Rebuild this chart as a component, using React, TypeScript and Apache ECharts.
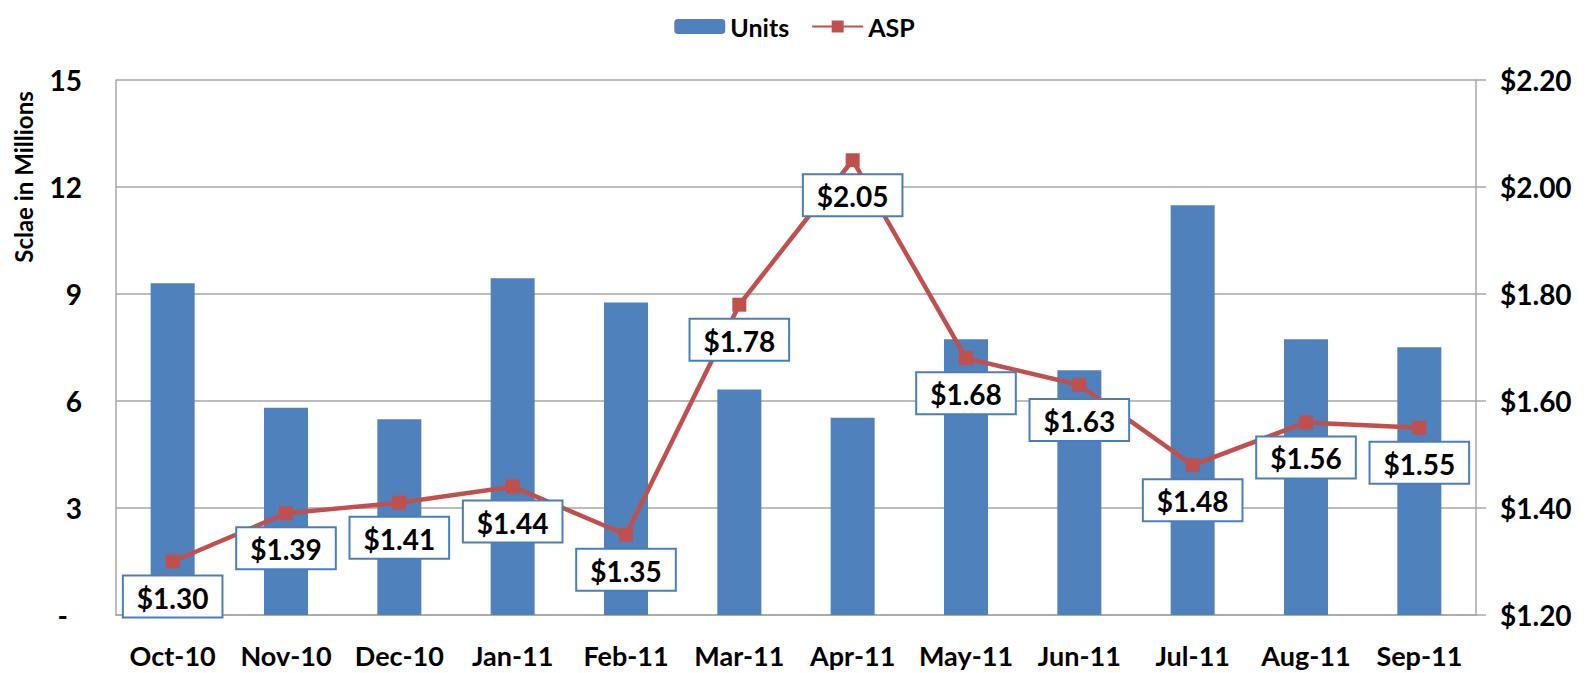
import React, { useEffect, useRef } from "react";
import * as echarts from "echarts";

const categories = ["Oct-10", "Nov-10", "Dec-10", "Jan-11", "Feb-11", "Mar-11", "Apr-11", "May-11", "Jun-11", "Jul-11", "Aug-11", "Sep-11"];
const units = [9.3, 5.81, 5.49, 9.44, 8.76, 6.32, 5.53, 7.73, 6.86, 11.49, 7.73, 7.51];
const asp = [1.3, 1.39, 1.41, 1.44, 1.35, 1.78, 2.05, 1.68, 1.63, 1.48, 1.56, 1.55];
const leftAxis = { min: 0, max: 15, interval: 3 };
const rightAxis = { min: 1.2, max: 2.2, interval: 0.2 };
const axisTitle = "Sclae in Millions";

const FONT = "Lato";
const GRID = "#A6A6A6";

export default function App() {
  const ref = useRef<HTMLDivElement>(null);
  useEffect(() => {
    document.body.style.margin = "0";
    const chart = echarts.init(ref.current!, null, { renderer: "svg" });
    chart.setOption({
      animation: false,
      textStyle: { fontFamily: FONT },
      legend: {
        top: 9,
        left: "center",
        itemWidth: 51,
        itemHeight: 15,
        itemGap: 22,
        textStyle: { fontFamily: FONT, fontWeight: "bold", fontSize: 25, color: "#000" },
        data: ["Units", "ASP"],
      },
      grid: { left: 116, right: 113, top: 80, bottom: 58 },
      graphic: [
        {
          type: "text",
          x: 23,
          y: 177,
          rotation: Math.PI / 2,
          style: {
            text: axisTitle,
            fontFamily: FONT,
            fontWeight: "bold",
            fontSize: 24,
            fill: "#000",
            align: "center",
            verticalAlign: "middle",
          },
        },
      ],
      xAxis: {
        type: "category",
        data: categories,
        axisTick: { show: false },
        axisLine: { lineStyle: { color: GRID, width: 1.5 } },
        axisLabel: { margin: 27, fontFamily: FONT, fontWeight: "bold", fontSize: 27, color: "#000", interval: 0 },
      },
      yAxis: [
        {
          type: "value",
          min: leftAxis.min,
          max: leftAxis.max,
          interval: leftAxis.interval,
          axisLine: { show: true, lineStyle: { color: GRID, width: 1.5 } },
          axisTick: { show: false },
          splitLine: { lineStyle: { color: GRID, width: 1.5 } },
          axisLabel: {
            margin: 34,
            fontFamily: FONT,
            fontWeight: "bold",
            fontSize: 28,
            color: "#000",
            formatter: (v: number) => (v === 0 ? "{d|-}" : String(v)),
            rich: { d: { fontFamily: FONT, fontWeight: "bold", fontSize: 28, color: "#000", padding: [0, 14, 0, 0] } },
          },
        },
        {
          type: "value",
          position: "right",
          min: rightAxis.min,
          max: rightAxis.max,
          interval: rightAxis.interval,
          axisLine: { show: true, lineStyle: { color: GRID, width: 1.5 } },
          axisTick: { show: true, length: 10, lineStyle: { color: GRID, width: 1.5 } },
          splitLine: { show: false },
          axisLabel: {
            margin: 24,
            fontFamily: FONT,
            fontWeight: "bold",
            fontSize: 28,
            color: "#000",
            formatter: (v: number) => "$" + v.toFixed(2),
          },
        },
      ],
      series: [
        {
          name: "Units",
          type: "bar",
          data: units,
          yAxisIndex: 0,
          barWidth: 44,
          itemStyle: { color: "#4F81BD" },
        },
        {
          name: "ASP",
          type: "line",
          data: asp,
          yAxisIndex: 1,
          symbol: "rect",
          symbolSize: 14,
          lineStyle: { color: "#C0504D", width: 4.5 },
          itemStyle: { color: "#C0504D" },
          label: {
            show: true,
            position: "bottom",
            distance: 8,
            formatter: (p: any) => "$" + Number(p.value).toFixed(2),
            fontFamily: FONT,
            fontWeight: "bold",
            fontSize: 28,
            color: "#000",
            backgroundColor: "#fff",
            borderColor: "#4A7EBB",
            borderWidth: 2,
            padding: [7, 13, 5, 13],
          },
          z: 3,
        },
      ],
    });
    return () => chart.dispose();
  }, []);
  return <div ref={ref} style={{ width: 1589, height: 673 }} />;
}
